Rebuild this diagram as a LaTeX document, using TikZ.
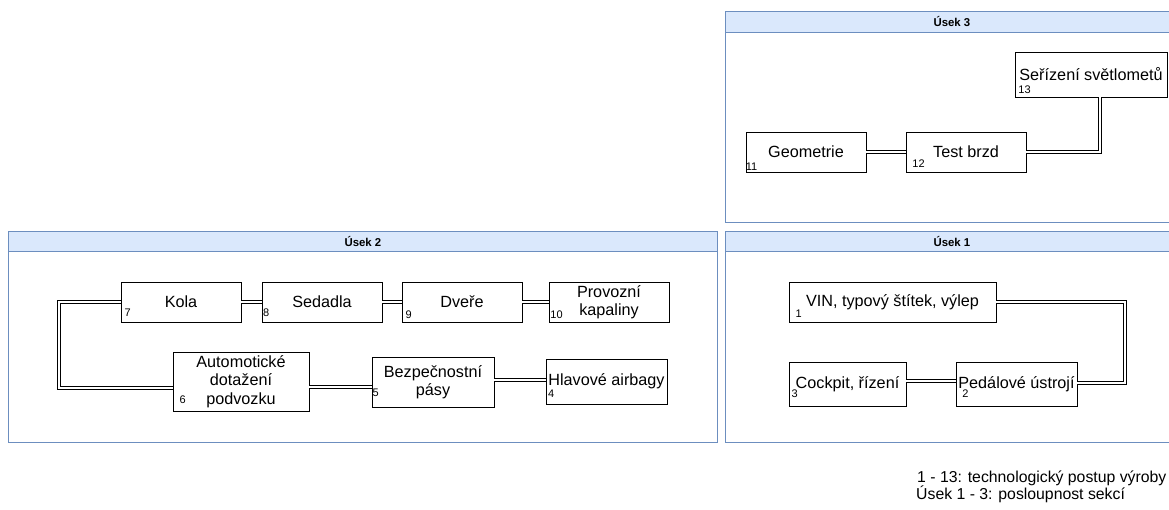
\documentclass[tikz,border=0pt]{standalone}
\usepackage{fontspec}
\setmainfont{Liberation Sans}
\usetikzlibrary{positioning}
\definecolor{lanefill}{RGB}{218,232,252}
\definecolor{laneline}{RGB}{108,142,191}

\begin{document}
\begin{tikzpicture}[x=1pt, y=-1pt, every node/.style={font=\fontsize{16.2}{18.5}\selectfont},
  stage/.style={draw, line width=0.8pt, inner sep=0pt, minimum width=120, minimum height=40,
                align=center},
  lane/.style={draw=laneline, line width=0.8pt, fill=white, inner sep=0pt, anchor=north west},
  lanehead/.style={draw=laneline, line width=0.8pt, fill=lanefill, inner sep=0pt,
                   minimum height=21, anchor=north west, font=\fontsize{11.4}{13}\selectfont\bfseries},
  num/.style={inner sep=0pt, font=\fontsize{11}{13}\selectfont},
  note/.style={inner sep=0pt, anchor=base west, font=\fontsize{15.8}{17}\selectfont},
  link/.style={draw, double, double distance=2.2pt, line width=0.8pt}]

\useasboundingbox (0,0) rectangle (1169,509);
\clip (0,0) rectangle (1169,509);

% sekce
\node[lane, minimum width=453, minimum height=211] (u3) at (725,11) {};
\node[lanehead, minimum width=453] (u3h) at (u3.north west) {Úsek 3};
\node[lane, minimum width=709, minimum height=211] (u2) at (8,231) {};
\node[lanehead, minimum width=709, minimum height=20] (u2h) at (u2.north west) {Úsek 2};
\node[lane, minimum width=453, minimum height=211] (u1) at (725,231) {};
\node[lanehead, minimum width=453, minimum height=20] (u1h) at (u1.north west) {Úsek 1};

% Úsek 3
\node[stage] (geo)  at (806,152) {Geometrie};
\node[stage] (brzd) at (966,152) {Test brzd};
\node[stage, minimum width=152, minimum height=45] (svet) at (1091,74.5) {Seřízení světlometů};

% Úsek 2
\node[stage] (kola)  at (181,302) {Kola};
\node[stage] (sed)   at (322,302) {Sedadla};
\node[stage] (dvere) at (462,302) {Dveře};
\node[stage] (kapal) at (609,302) {Provozní\\kapaliny};
\node[stage, minimum width=136, minimum height=59] (auto) at (241,381.5) {Automotické\\dotažení\\podvozku};
\node[stage, minimum width=122, minimum height=50] (pasy) at (433,382) {Bezpečnostní\\pásy};
\node[stage, minimum width=121, minimum height=45] (airbag) at (606.5,381.5) {Hlavové airbagy};

% Úsek 1
\node[stage, minimum width=207] (vin) at (892.5,302) {VIN, typový štítek, výlep};
\node[stage, minimum width=117, minimum height=44] (cock)  at (847.5,384) {Cockpit, řízení};
\node[stage, minimum width=121, minimum height=44] (pedal) at (1016.5,384) {Pedálové ústrojí};

% poradi
\foreach \b/\n/\dx/\dy in {kola/7/7/10, sed/8/4.7/10, dvere/9/7/8, kapal/10/8/8, auto/6/10/12,
    pasy/5/4/15, airbag/4/5.5/11, vin/1/10/9, cock/3/6/12.5, pedal/2/9.7/12.5,
    geo/11/6/6, brzd/12/13/9, svet/13/10/8}
  \node[num] (n\n) at ([shift={(\dx,-\dy)}]\b.south west) {\n};

% spoje
\coordinate (vinr)  at (1125,302);
\coordinate (pedr)  at (1125,383);
\coordinate (kolal) at ([xshift=-62]kola.west);
\draw[link] (geo) -- (brzd);
\draw[link] (brzd.east) -| ([xshift=9]svet.south);
\foreach \a/\b in {kola/sed, sed/dvere, dvere/kapal} \draw[link] (\a) -- (\b);
\draw[link] (kola.west) -- (kolal) |- ([yshift=-6.5]auto.west);
\draw[link] ([yshift=-5.5]auto.east) -- ([yshift=-5.5]auto.east -| pasy.west);
\draw[link] ([yshift=2]pasy.east) -- ([yshift=2]pasy.east -| airbag.west);
\draw[link] (vin.east) -- (vinr) -- (pedr) -- (pedr -| pedal.east);
\draw[link] ([yshift=3]cock.east) -- ([yshift=3]cock.east -| pedal.west);

% legenda
\node[note] (leg1) at (917,482.7) {1 - 13: technologický postup výroby};
\node[note] (leg2) at (916,499.3) {Úsek 1 - 3: posloupnost sekcí};
\end{tikzpicture}
\end{document}
